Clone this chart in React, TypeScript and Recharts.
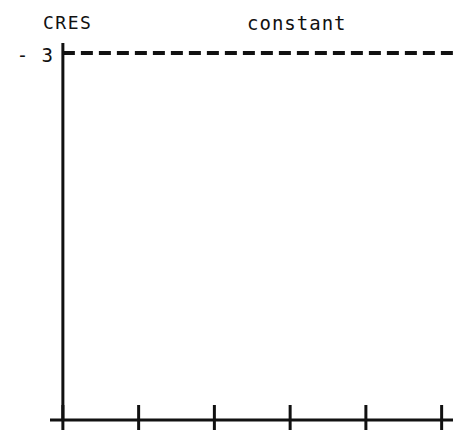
import React from 'react';
import { LineChart, Line, XAxis, YAxis, ReferenceLine, Customized } from 'recharts';

const xTicks = [0, 1, 2, 3, 4, 5];
const yTicks = [-3];
const xDomain = [-0.17, 5.15];
const yDomain = [-40, -2];
const lineX = [0, 5.15];
const cresValues = [-3, -3];
const yTickLabels: Record<string, string> = { '-3': '- 3' };
const yTitle = 'CRES';
const chartTitle = 'constant';

const data = lineX.map((x, i) => ({ x, y: cresValues[i] }));

const INK = '#111';
const FONT = '"DejaVu Sans Mono", monospace';

const XTick = (props: any) => {
  const { x, y } = props;
  return <line x1={x} x2={x} y1={y - 15} y2={y + 10} stroke={INK} strokeWidth={3} />;
};

const YTick = (props: any) => {
  const { x, y, payload } = props;
  return (
    <text x={x + 4} y={y + 9} textAnchor="end" fontFamily={FONT} fontSize={19} letterSpacing={1} fill={INK}>
      {yTickLabels[String(payload.value)]}
    </text>
  );
};

const Titles = () => (
  <g>
    <text x={43} y={29} fontFamily={FONT} fontSize={18} letterSpacing={1.5} fill={INK}>{yTitle}</text>
    <text x={247} y={30} fontFamily={FONT} fontSize={19} letterSpacing={1} fill={INK}>{chartTitle}</text>
  </g>
);

export default function App() {
  return (
    <div style={{ position: 'absolute', left: 0, top: 0, background: '#fff' }}>
      <LineChart width={453} height={435} data={data} margin={{ top: 43, right: 0, bottom: 0, left: 0 }}>
        <XAxis
          dataKey="x"
          type="number"
          domain={xDomain}
          ticks={xTicks}
          height={15}
          tickSize={0}
          tickMargin={0}
          tick={<XTick />}
          axisLine={{ stroke: INK, strokeWidth: 3 }}
          tickLine={false}
          allowDataOverflow
        />
        <YAxis
          type="number"
          domain={yDomain}
          ticks={yTicks}
          width={50}
          tickSize={0}
          tickMargin={0}
          tick={<YTick />}
          axisLine={false}
          tickLine={false}
          allowDataOverflow
        />
        <ReferenceLine x={0} stroke={INK} strokeWidth={3} />
        <Line
          dataKey="y"
          stroke={INK}
          strokeWidth={4}
          strokeDasharray="12 6"
          dot={false}
          isAnimationActive={false}
        />
        <Customized component={Titles} />
      </LineChart>
    </div>
  );
}
